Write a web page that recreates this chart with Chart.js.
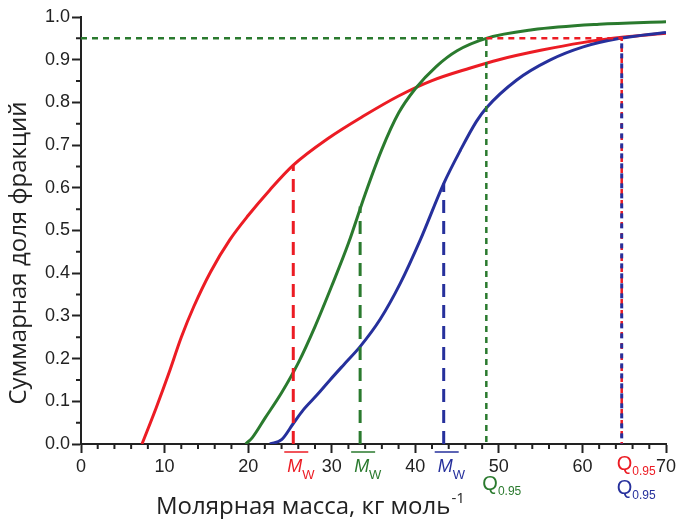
<!DOCTYPE html>
<html>
<head>
<meta charset="utf-8">
<script src="https://cdn.jsdelivr.net/npm/chart.js@4.4.1/dist/chart.umd.min.js"></script>
<style>
    html, body { margin: 0; padding: 0; background: #fff; }
    #wrap { width: 676px; height: 519px; }
</style>
</head>
<body>
<div id="wrap"><canvas id="chart" width="676" height="519"></canvas></div>
<script>
// Кривые (молярная масса, кг/моль -> суммарная доля)
const redX   = [7.3, 9.0, 10.5, 12.0, 13.5, 15.5, 17.8, 20.0, 22.6, 25.4, 29.6, 33.8, 38.0, 42.0, 46.5, 50.0, 55.0, 60.0, 65.0, 70.0];
const redY   = [0, 0.085, 0.165, 0.25, 0.322, 0.403, 0.478, 0.535, 0.595, 0.653, 0.716, 0.768, 0.815, 0.851, 0.880, 0.900, 0.922, 0.940, 0.953, 0.962];

const greenX = [19.7, 20.5, 22.0, 24.0, 26.0, 28.0, 30.0, 32.0, 34.0, 36.0, 38.0, 40.0, 42.5, 45.0, 48.5, 54.0, 62.0, 70.0];
const greenY = [0, 0.015, 0.06, 0.12, 0.19, 0.275, 0.37, 0.47, 0.585, 0.69, 0.775, 0.832, 0.884, 0.921, 0.950, 0.970, 0.983, 0.989];

const blueX  = [22.6, 24.0, 25.4, 26.6, 28.2, 29.8, 31.5, 33.4, 35.8, 38.2, 40.6, 43.4, 45.4, 47.3, 48.5, 52.1, 56.1, 60.1, 64.5, 70.0];
const blueY  = [0, 0.01, 0.048, 0.08, 0.114, 0.15, 0.187, 0.228, 0.292, 0.376, 0.478, 0.61, 0.688, 0.755, 0.787, 0.852, 0.899, 0.93, 0.95, 0.964];

// Средневесовые массы (Mw) и квантиль Q0.95
const mwX = [25.4, 33.4, 43.4];      // красная, зелёная, синяя
const mwY = [0.653, 0.556, 0.61];
const qLevel = 0.95;
const qX = [48.5, 64.7];             // зелёная, красная+синяя

const RED = '#ec1c24';
const GREEN = '#2a7a2e';
const BLUE = '#26309c';
const AXIS = '#222';

const pts = (xs, ys) => xs.map((x, i) => ({ x: x, y: ys[i] }));

function curve(xs, ys, color) {
    return {
        data: pts(xs, ys),
        borderColor: color,
        borderWidth: 3,
        pointRadius: 0,
        cubicInterpolationMode: 'monotone',
        order: 1
    };
}

function dashed(xs, ys, color, dash, width, offset) {
    return {
        data: pts(xs, ys),
        borderColor: color,
        borderWidth: width,
        borderDash: dash,
        borderDashOffset: offset || 0,
        borderCapStyle: 'butt',
        pointRadius: 0,
        tension: 0,
        order: 0
    };
}

// Малые деления, подписи Mw / Q0.95 и названия осей
const decorations = {
    id: 'decorations',
    afterDraw(chart) {
        const { ctx, chartArea: ca, scales: { x, y } } = chart;
        ctx.save();

        // малые деления
        ctx.strokeStyle = AXIS;
        ctx.lineWidth = 2;
        ctx.beginPath();
        for (let v = 2; v < 70; v += 2) {
            if (v % 10 === 0) continue;
            const px = x.getPixelForValue(v);
            ctx.moveTo(px, ca.bottom);
            ctx.lineTo(px, ca.bottom + 5);
        }
        for (let i = 1; i < 20; i += 2) {
            const py = y.getPixelForValue(i / 20);
            ctx.moveTo(ca.left, py);
            ctx.lineTo(ca.left - 5, py);
        }
        ctx.stroke();

        // подписи Mw с чертой сверху
        ctx.textAlign = 'left';
        ctx.textBaseline = 'alphabetic';
        [RED, GREEN, BLUE].forEach((color, i) => {
            const left = x.getPixelForValue(mwX[i]) - 6;
            ctx.fillStyle = color;
            ctx.strokeStyle = color;
            ctx.font = 'italic 18px "Liberation Sans"';
            ctx.fillText('M', left, ca.bottom + 28);
            const w = ctx.measureText('M').width;
            ctx.font = '13px "Liberation Sans"';
            ctx.fillText('W', left + w, ca.bottom + 35);
            ctx.lineWidth = 1.5;
            ctx.beginPath();
            ctx.moveTo(left - 3, ca.bottom + 8);
            ctx.lineTo(left + 21, ca.bottom + 8);
            ctx.stroke();
        });

        // подписи Q0.95
        const qLabel = (px, base, color) => {
            ctx.fillStyle = color;
            ctx.font = '20px "Liberation Sans"';
            ctx.fillText('Q', px - 5, base);
            const w = ctx.measureText('Q').width;
            ctx.font = '12px "Liberation Sans"';
            ctx.fillText('0.95', px - 5 + w, base + 5);
        };
        qLabel(x.getPixelForValue(qX[0]) + 1, ca.bottom + 46, GREEN);
        qLabel(x.getPixelForValue(qX[1]), ca.bottom + 26, RED);
        qLabel(x.getPixelForValue(qX[1]), ca.bottom + 50, BLUE);

        // название оси X с верхним индексом
        ctx.fillStyle = AXIS;
        ctx.font = '24px "Open Sans"';
        const main = 'Молярная масса, кг моль';
        const tx = 156;
        ctx.fillText(main, tx, 514);
        const mw = ctx.measureText(main).width;
        ctx.font = '15px "Open Sans"';
        ctx.fillText('-1', tx + mw + 1, 503);

        // название оси Y
        ctx.translate(26, 253);
        ctx.rotate(-Math.PI / 2);
        ctx.textAlign = 'center';
        ctx.font = '24px "Open Sans"';
        ctx.fillText('Суммарная доля фракций', 0, 0);

        ctx.restore();
    }
};

const tickFont = { family: '"Liberation Sans", Arial, sans-serif', size: 18 };

new Chart(document.getElementById('chart'), {
    type: 'line',
    data: {
        datasets: [
            dashed([mwX[0], mwX[0]], [0, mwY[0]], RED, [13, 8], 3),
            dashed([mwX[1], mwX[1]], [0, mwY[1]], GREEN, [13, 8], 3),
            dashed([mwX[2], mwX[2]], [0, mwY[2]], BLUE, [13, 8], 3),
            dashed([0, qX[0], qX[0]], [qLevel, qLevel, 0], GREEN, [6, 5], 2.5),
            dashed([qX[1], qX[1]], [qLevel, 0], BLUE, [5, 5], 3, 5),
            dashed([qX[0], qX[1], qX[1]], [qLevel, qLevel, 0], RED, [6, 5], 2.5),
            curve(greenX, greenY, GREEN),
            curve(blueX, blueY, BLUE),
            curve(redX, redY, RED)
        ]
    },
    options: {
        responsive: false,
        animation: false,
        layout: { padding: { top: 17, right: 10, left: 0, bottom: 0 } },
        plugins: {
            legend: { display: false },
            tooltip: { enabled: false }
        },
        scales: {
            x: {
                type: 'linear',
                min: 0,
                max: 70,
                afterFit: s => { s.height = 75; s.paddingLeft = 0; s.paddingRight = 0; },
                border: { color: AXIS, width: 2 },
                grid: { drawOnChartArea: false, tickLength: 9, tickWidth: 2, tickColor: AXIS },
                ticks: { stepSize: 10, autoSkip: false, maxRotation: 0, color: AXIS, font: tickFont, padding: 3 }
            },
            y: {
                min: 0,
                max: 1,
                afterFit: s => { s.width = 81; s.paddingTop = 0; s.paddingBottom = 0; },
                border: { color: AXIS, width: 2 },
                grid: { drawOnChartArea: false, tickLength: 9, tickWidth: 2, tickColor: AXIS },
                ticks: { stepSize: 0.1, color: AXIS, font: tickFont, padding: 2, callback: v => v.toFixed(1) }
            }
        }
    },
    plugins: [decorations]
});
</script>
</body>
</html>
